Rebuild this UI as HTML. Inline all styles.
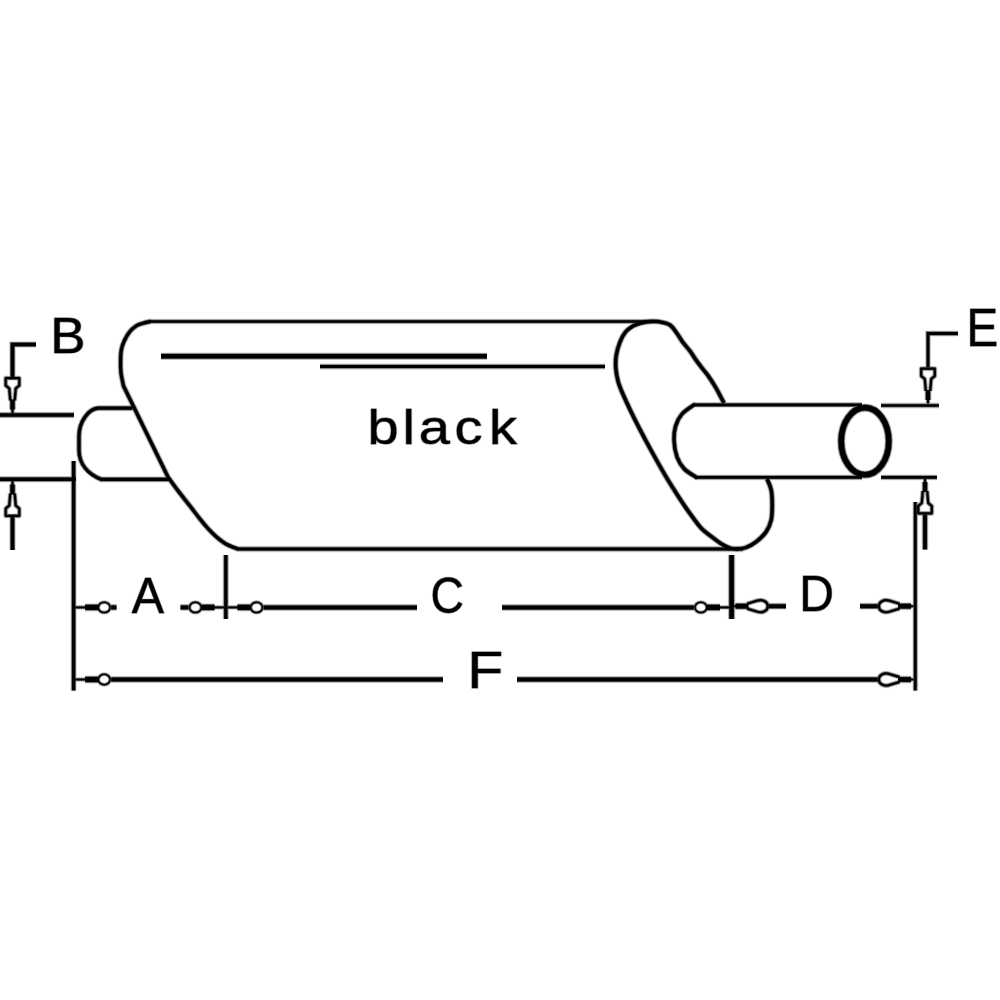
<!DOCTYPE html>
<html>
<head>
<meta charset="utf-8">
<title>Muffler dimensions</title>
<style>
html,body{margin:0;padding:0;background:#fff;}
body{width:1000px;height:1000px;overflow:hidden;}
svg{display:block;}
text{font-family:"Liberation Sans",sans-serif;fill:#000;stroke:#000;stroke-linejoin:round;}
</style>
</head>
<body>
<svg width="1000" height="1000" viewBox="0 0 1000 1000">
<rect width="1000" height="1000" fill="#fff"/>

<g fill="none" stroke="#000" opacity="0.15">
<path stroke-width="6.3" d="M132.4 408.2 H98 C89 409 79 421 79 436 V450 C79 464 88 474 101 479.3 H169"/>
<path stroke-width="5.5" d="M659 321.5 H149"/>
<path stroke-width="6.3" d="M151 321.5 L150 321.5 C148.8 321.8 145.3 322.4 143.0 323.2 C140.7 323.9 138.2 324.5 136.0 326.0 C133.8 327.5 131.5 329.5 129.5 332.0 C127.5 334.5 125.6 338.0 124.2 341.0 C122.8 344.0 121.9 346.8 121.3 350.0 C120.7 353.2 120.6 356.2 120.6 360.0 C120.5 363.8 120.5 368.7 121.0 373.0 C121.5 377.3 123.1 383.8 123.5 386.0 L168 477 C169.8 479.5 175.3 487.2 179.0 492.0 C182.7 496.8 186.5 501.5 190.0 506.0 C193.5 510.5 197.0 515.2 200.0 519.0 C203.0 522.8 205.3 525.6 208.0 528.5 C210.7 531.4 213.0 533.9 216.0 536.5 C219.0 539.1 222.3 541.9 226.0 544.0 C229.7 546.1 236.0 548.2 238.0 549.0" stroke-linejoin="round"/>
<path stroke-width="6.3" d="M237 549.0 H743"/>
<path stroke-width="7.5" d="M161 356.2 H487"/>
<path stroke-width="6.1" d="M320 366.6 H605"/>
<path stroke-width="6.5" d="M767.0 479.0 C769.2 483.7 770.3 485.7 771.2 490.0 C772.1 494.3 772.2 500.0 772.2 505.0 C772.2 510.0 772.2 515.5 771.2 520.0 C770.2 524.5 768.5 528.4 766.0 532.0 C763.5 535.6 759.7 539.0 756.4 541.6 C753.1 544.2 749.2 546.3 746.0 547.5 C742.8 548.7 739.7 548.9 737.0 549.0 C734.3 549.1 732.6 548.8 730.0 548.0 C727.4 547.2 724.6 545.8 721.6 544.0 C718.6 542.2 715.3 539.5 712.0 537.0 C708.7 534.5 705.0 532.0 702.0 529.0 C699.0 526.0 696.8 522.8 694.0 519.0 C691.2 515.2 688.1 511.0 685.0 506.5 C681.9 502.0 678.8 497.2 675.5 492.0 C672.2 486.8 668.9 481.7 665.0 475.0 C661.1 468.3 656.2 459.6 652.0 452.0 C647.8 444.4 643.6 436.5 640.0 429.6 C636.4 422.7 633.4 416.7 630.4 410.4 C627.4 404.1 624.1 396.9 622.0 392.0 C619.9 387.1 619.0 385.0 618.0 381.0 C617.0 377.0 616.1 372.3 615.8 368.0 C615.5 363.7 615.6 359.3 616.3 355.0 C617.0 350.7 618.5 345.8 620.0 342.0 C621.5 338.2 623.3 334.7 625.5 332.0 C627.7 329.3 630.4 327.5 633.0 326.0 C635.6 324.5 638.2 323.8 641.0 323.0 C643.8 322.2 647.0 321.7 650.0 321.5 C653.0 321.3 655.7 321.1 659.0 321.7 C662.3 322.3 667.0 323.0 670.0 325.0 C673.0 327.0 674.8 330.6 677.0 333.5 C679.2 336.4 680.8 339.6 683.0 342.5 C685.2 345.4 687.8 348.1 690.0 351.0 C692.2 353.9 694.0 357.2 696.0 360.0 C698.0 362.8 700.0 365.4 702.0 368.0 C704.0 370.6 705.7 372.2 708.0 375.5 C710.3 378.8 713.3 383.4 716.0 388.0 C718.7 392.6 719.7 395.0 724.0 403.0" stroke-linejoin="round"/>
<path stroke-width="5.8" d="M862 404.8 H693 M695 477.3 H862"/>
<path stroke-width="6.4" d="M695 404.8 L694 404.8 C692.0 406.3 685.1 410.5 682.0 414.0 C678.9 417.5 676.9 421.7 675.6 426.0 C674.3 430.3 673.8 434.8 674.0 440.0 C674.2 445.2 675.3 452.2 677.0 457.0 C678.7 461.8 681.2 465.6 684.4 469.0 C687.6 472.4 694.4 475.9 696.4 477.3 H697" stroke-linejoin="round"/>
<ellipse stroke-width="8.7" cx="865" cy="441.2" rx="23.8" ry="33.6"/>
<path stroke-width="6.6" d="M0 415 H74 M0 479.3 H76"/>
<path stroke-width="6.7" d="M36 344.5 H12.5 V377" stroke-linejoin="miter"/>
<path stroke-width="6.7" d="M12.5 517 V550"/>
<g transform="translate(12.5 413.5) rotate(0)">
<path stroke-width="5.1" d="M0 -0.5 V-5"/>
<path stroke-width="7.3" d="M0 -4 V-14"/>
<path stroke-width="5.3" d="M-2.2 -13 L-3.2 -25 L-6.8 -28 V-35.3 H6.8 V-28 L3.2 -25 L2.2 -13" stroke-linejoin="round"/>
</g>
<g transform="translate(12.5 480.5) rotate(180)">
<path stroke-width="5.1" d="M0 -0.5 V-5"/>
<path stroke-width="7.3" d="M0 -4 V-14"/>
<path stroke-width="5.3" d="M-2.2 -13 L-3.2 -25 L-6.8 -28 V-35.3 H6.8 V-28 L3.2 -25 L2.2 -13" stroke-linejoin="round"/>
</g>
<path stroke-width="5.8" d="M881 405.5 H939 M881 477.4 H937"/>
<path stroke-width="5.9" d="M958 333.5 H928 V367.5" stroke-linejoin="miter"/>
<path stroke-width="6.9" d="M925 514.5 V549.5"/>
<g transform="translate(928 404) rotate(0)">
<path stroke-width="5.1" d="M0 -0.5 V-5"/>
<path stroke-width="7.3" d="M0 -4 V-14"/>
<path stroke-width="5.3" d="M-2.2 -13 L-3.2 -25 L-6.8 -28 V-35.3 H6.8 V-28 L3.2 -25 L2.2 -13" stroke-linejoin="round"/>
</g>
<g transform="translate(925 478) rotate(180)">
<path stroke-width="5.1" d="M0 -0.5 V-5"/>
<path stroke-width="7.3" d="M0 -4 V-14"/>
<path stroke-width="5.3" d="M-2.2 -13 L-3.2 -25 L-6.8 -28 V-35.3 H6.8 V-28 L3.2 -25 L2.2 -13" stroke-linejoin="round"/>
</g>
<path stroke-width="6.4" d="M73.6 461 V690.5"/>
<path stroke-width="5.9" d="M915.3 502 V690.5"/>
<path stroke-width="6.4" d="M225.8 555 V619"/>
<path stroke-width="7.6" d="M731.6 555 V619"/>
<path stroke-width="7.1" d="M111.19999999999999 607.4 H116.5"/>
<path stroke-width="7.1" d="M180.5 607.4 H188.4"/>
<path stroke-width="7.1" d="M263.6 607.4 H417"/>
<path stroke-width="7.1" d="M502 607.4 H693.9"/>
<path stroke-width="7.1" d="M768.9 606.2 H786"/>
<path stroke-width="7.1" d="M860 606.2 H877.6999999999999"/>
<path stroke-width="7.1" d="M111.19999999999999 679.5 H443"/>
<path stroke-width="7.1" d="M517 679.5 H877.6999999999999"/>
<g transform="translate(74.6 607.4) rotate(180)">
<path stroke-width="4.9" d="M-0.5 0 H-12"/>
<path stroke-width="8.3" d="M-10.5 0 H-23.6"/>
<ellipse stroke-width="4.6" cx="-29.6" cy="0" rx="5.9" ry="5.2"/>
</g>
<g transform="translate(225 607.4) rotate(0)">
<path stroke-width="4.9" d="M-0.5 0 H-12"/>
<path stroke-width="8.3" d="M-10.5 0 H-23.6"/>
<ellipse stroke-width="4.6" cx="-29.6" cy="0" rx="5.9" ry="5.2"/>
</g>
<g transform="translate(227 607.4) rotate(180)">
<path stroke-width="4.9" d="M-0.5 0 H-12"/>
<path stroke-width="8.3" d="M-10.5 0 H-23.6"/>
<ellipse stroke-width="4.6" cx="-29.6" cy="0" rx="5.9" ry="5.2"/>
</g>
<g transform="translate(730.5 607.4) rotate(0)">
<path stroke-width="4.9" d="M-0.5 0 H-12"/>
<path stroke-width="8.3" d="M-10.5 0 H-23.6"/>
<ellipse stroke-width="4.6" cx="-29.6" cy="0" rx="5.9" ry="5.2"/>
</g>
<g transform="translate(732.5 606.2) rotate(180)">
<path stroke-width="4.9" d="M-0.5 0 H-4"/>
<path stroke-width="7.9" d="M-3 0 H-16"/>
<path stroke-width="5.3" d="M-14.5 -2.4 L-25 -5.6 C-30 -7 -35.3 -4.6 -35.3 0 C-35.3 4.6 -30 7 -25 5.6 L-14.5 2.4" stroke-linejoin="round"/>
</g>
<g transform="translate(914.0999999999999 606.2) rotate(0)">
<path stroke-width="4.9" d="M-0.5 0 H-4"/>
<path stroke-width="7.9" d="M-3 0 H-16"/>
<path stroke-width="5.3" d="M-14.5 -2.4 L-25 -5.6 C-30 -7 -35.3 -4.6 -35.3 0 C-35.3 4.6 -30 7 -25 5.6 L-14.5 2.4" stroke-linejoin="round"/>
</g>
<g transform="translate(74.6 679.5) rotate(180)">
<path stroke-width="4.9" d="M-0.5 0 H-12"/>
<path stroke-width="8.3" d="M-10.5 0 H-23.6"/>
<ellipse stroke-width="4.6" cx="-29.6" cy="0" rx="5.9" ry="5.2"/>
</g>
<g transform="translate(914.0999999999999 679.5) rotate(0)">
<path stroke-width="4.9" d="M-0.5 0 H-4"/>
<path stroke-width="7.9" d="M-3 0 H-16"/>
<path stroke-width="5.3" d="M-14.5 -2.4 L-25 -5.6 C-30 -7 -35.3 -4.6 -35.3 0 C-35.3 4.6 -30 7 -25 5.6 L-14.5 2.4" stroke-linejoin="round"/>
</g>
</g>
<use href="#txt" stroke-width="8" opacity="0.15"/>
<g fill="none" stroke="#000" opacity="0.47">
<path stroke-width="4.7" d="M132.4 408.2 H98 C89 409 79 421 79 436 V450 C79 464 88 474 101 479.3 H169"/>
<path stroke-width="3.9" d="M659 321.5 H149"/>
<path stroke-width="4.7" d="M151 321.5 L150 321.5 C148.8 321.8 145.3 322.4 143.0 323.2 C140.7 323.9 138.2 324.5 136.0 326.0 C133.8 327.5 131.5 329.5 129.5 332.0 C127.5 334.5 125.6 338.0 124.2 341.0 C122.8 344.0 121.9 346.8 121.3 350.0 C120.7 353.2 120.6 356.2 120.6 360.0 C120.5 363.8 120.5 368.7 121.0 373.0 C121.5 377.3 123.1 383.8 123.5 386.0 L168 477 C169.8 479.5 175.3 487.2 179.0 492.0 C182.7 496.8 186.5 501.5 190.0 506.0 C193.5 510.5 197.0 515.2 200.0 519.0 C203.0 522.8 205.3 525.6 208.0 528.5 C210.7 531.4 213.0 533.9 216.0 536.5 C219.0 539.1 222.3 541.9 226.0 544.0 C229.7 546.1 236.0 548.2 238.0 549.0" stroke-linejoin="round"/>
<path stroke-width="4.7" d="M237 549.0 H743"/>
<path stroke-width="5.9" d="M161 356.2 H487"/>
<path stroke-width="4.5" d="M320 366.6 H605"/>
<path stroke-width="4.9" d="M767.0 479.0 C769.2 483.7 770.3 485.7 771.2 490.0 C772.1 494.3 772.2 500.0 772.2 505.0 C772.2 510.0 772.2 515.5 771.2 520.0 C770.2 524.5 768.5 528.4 766.0 532.0 C763.5 535.6 759.7 539.0 756.4 541.6 C753.1 544.2 749.2 546.3 746.0 547.5 C742.8 548.7 739.7 548.9 737.0 549.0 C734.3 549.1 732.6 548.8 730.0 548.0 C727.4 547.2 724.6 545.8 721.6 544.0 C718.6 542.2 715.3 539.5 712.0 537.0 C708.7 534.5 705.0 532.0 702.0 529.0 C699.0 526.0 696.8 522.8 694.0 519.0 C691.2 515.2 688.1 511.0 685.0 506.5 C681.9 502.0 678.8 497.2 675.5 492.0 C672.2 486.8 668.9 481.7 665.0 475.0 C661.1 468.3 656.2 459.6 652.0 452.0 C647.8 444.4 643.6 436.5 640.0 429.6 C636.4 422.7 633.4 416.7 630.4 410.4 C627.4 404.1 624.1 396.9 622.0 392.0 C619.9 387.1 619.0 385.0 618.0 381.0 C617.0 377.0 616.1 372.3 615.8 368.0 C615.5 363.7 615.6 359.3 616.3 355.0 C617.0 350.7 618.5 345.8 620.0 342.0 C621.5 338.2 623.3 334.7 625.5 332.0 C627.7 329.3 630.4 327.5 633.0 326.0 C635.6 324.5 638.2 323.8 641.0 323.0 C643.8 322.2 647.0 321.7 650.0 321.5 C653.0 321.3 655.7 321.1 659.0 321.7 C662.3 322.3 667.0 323.0 670.0 325.0 C673.0 327.0 674.8 330.6 677.0 333.5 C679.2 336.4 680.8 339.6 683.0 342.5 C685.2 345.4 687.8 348.1 690.0 351.0 C692.2 353.9 694.0 357.2 696.0 360.0 C698.0 362.8 700.0 365.4 702.0 368.0 C704.0 370.6 705.7 372.2 708.0 375.5 C710.3 378.8 713.3 383.4 716.0 388.0 C718.7 392.6 719.7 395.0 724.0 403.0" stroke-linejoin="round"/>
<path stroke-width="4.2" d="M862 404.8 H693 M695 477.3 H862"/>
<path stroke-width="4.8" d="M695 404.8 L694 404.8 C692.0 406.3 685.1 410.5 682.0 414.0 C678.9 417.5 676.9 421.7 675.6 426.0 C674.3 430.3 673.8 434.8 674.0 440.0 C674.2 445.2 675.3 452.2 677.0 457.0 C678.7 461.8 681.2 465.6 684.4 469.0 C687.6 472.4 694.4 475.9 696.4 477.3 H697" stroke-linejoin="round"/>
<ellipse stroke-width="7.1" cx="865" cy="441.2" rx="23.8" ry="33.6"/>
<path stroke-width="5" d="M0 415 H74 M0 479.3 H76"/>
<path stroke-width="5.1" d="M36 344.5 H12.5 V377" stroke-linejoin="miter"/>
<path stroke-width="5.1" d="M12.5 517 V550"/>
<g transform="translate(12.5 413.5) rotate(0)">
<path stroke-width="3.5" d="M0 -0.5 V-5"/>
<path stroke-width="5.7" d="M0 -4 V-14"/>
<path stroke-width="3.7" d="M-2.2 -13 L-3.2 -25 L-6.8 -28 V-35.3 H6.8 V-28 L3.2 -25 L2.2 -13" stroke-linejoin="round"/>
</g>
<g transform="translate(12.5 480.5) rotate(180)">
<path stroke-width="3.5" d="M0 -0.5 V-5"/>
<path stroke-width="5.7" d="M0 -4 V-14"/>
<path stroke-width="3.7" d="M-2.2 -13 L-3.2 -25 L-6.8 -28 V-35.3 H6.8 V-28 L3.2 -25 L2.2 -13" stroke-linejoin="round"/>
</g>
<path stroke-width="4.2" d="M881 405.5 H939 M881 477.4 H937"/>
<path stroke-width="4.3" d="M958 333.5 H928 V367.5" stroke-linejoin="miter"/>
<path stroke-width="5.3" d="M925 514.5 V549.5"/>
<g transform="translate(928 404) rotate(0)">
<path stroke-width="3.5" d="M0 -0.5 V-5"/>
<path stroke-width="5.7" d="M0 -4 V-14"/>
<path stroke-width="3.7" d="M-2.2 -13 L-3.2 -25 L-6.8 -28 V-35.3 H6.8 V-28 L3.2 -25 L2.2 -13" stroke-linejoin="round"/>
</g>
<g transform="translate(925 478) rotate(180)">
<path stroke-width="3.5" d="M0 -0.5 V-5"/>
<path stroke-width="5.7" d="M0 -4 V-14"/>
<path stroke-width="3.7" d="M-2.2 -13 L-3.2 -25 L-6.8 -28 V-35.3 H6.8 V-28 L3.2 -25 L2.2 -13" stroke-linejoin="round"/>
</g>
<path stroke-width="4.8" d="M73.6 461 V690.5"/>
<path stroke-width="4.3" d="M915.3 502 V690.5"/>
<path stroke-width="4.8" d="M225.8 555 V619"/>
<path stroke-width="6" d="M731.6 555 V619"/>
<path stroke-width="5.5" d="M111.19999999999999 607.4 H116.5"/>
<path stroke-width="5.5" d="M180.5 607.4 H188.4"/>
<path stroke-width="5.5" d="M263.6 607.4 H417"/>
<path stroke-width="5.5" d="M502 607.4 H693.9"/>
<path stroke-width="5.5" d="M768.9 606.2 H786"/>
<path stroke-width="5.5" d="M860 606.2 H877.6999999999999"/>
<path stroke-width="5.5" d="M111.19999999999999 679.5 H443"/>
<path stroke-width="5.5" d="M517 679.5 H877.6999999999999"/>
<g transform="translate(74.6 607.4) rotate(180)">
<path stroke-width="3.3" d="M-0.5 0 H-12"/>
<path stroke-width="6.7" d="M-10.5 0 H-23.6"/>
<ellipse stroke-width="3" cx="-29.6" cy="0" rx="5.9" ry="5.2"/>
</g>
<g transform="translate(225 607.4) rotate(0)">
<path stroke-width="3.3" d="M-0.5 0 H-12"/>
<path stroke-width="6.7" d="M-10.5 0 H-23.6"/>
<ellipse stroke-width="3" cx="-29.6" cy="0" rx="5.9" ry="5.2"/>
</g>
<g transform="translate(227 607.4) rotate(180)">
<path stroke-width="3.3" d="M-0.5 0 H-12"/>
<path stroke-width="6.7" d="M-10.5 0 H-23.6"/>
<ellipse stroke-width="3" cx="-29.6" cy="0" rx="5.9" ry="5.2"/>
</g>
<g transform="translate(730.5 607.4) rotate(0)">
<path stroke-width="3.3" d="M-0.5 0 H-12"/>
<path stroke-width="6.7" d="M-10.5 0 H-23.6"/>
<ellipse stroke-width="3" cx="-29.6" cy="0" rx="5.9" ry="5.2"/>
</g>
<g transform="translate(732.5 606.2) rotate(180)">
<path stroke-width="3.3" d="M-0.5 0 H-4"/>
<path stroke-width="6.3" d="M-3 0 H-16"/>
<path stroke-width="3.7" d="M-14.5 -2.4 L-25 -5.6 C-30 -7 -35.3 -4.6 -35.3 0 C-35.3 4.6 -30 7 -25 5.6 L-14.5 2.4" stroke-linejoin="round"/>
</g>
<g transform="translate(914.0999999999999 606.2) rotate(0)">
<path stroke-width="3.3" d="M-0.5 0 H-4"/>
<path stroke-width="6.3" d="M-3 0 H-16"/>
<path stroke-width="3.7" d="M-14.5 -2.4 L-25 -5.6 C-30 -7 -35.3 -4.6 -35.3 0 C-35.3 4.6 -30 7 -25 5.6 L-14.5 2.4" stroke-linejoin="round"/>
</g>
<g transform="translate(74.6 679.5) rotate(180)">
<path stroke-width="3.3" d="M-0.5 0 H-12"/>
<path stroke-width="6.7" d="M-10.5 0 H-23.6"/>
<ellipse stroke-width="3" cx="-29.6" cy="0" rx="5.9" ry="5.2"/>
</g>
<g transform="translate(914.0999999999999 679.5) rotate(0)">
<path stroke-width="3.3" d="M-0.5 0 H-4"/>
<path stroke-width="6.3" d="M-3 0 H-16"/>
<path stroke-width="3.7" d="M-14.5 -2.4 L-25 -5.6 C-30 -7 -35.3 -4.6 -35.3 0 C-35.3 4.6 -30 7 -25 5.6 L-14.5 2.4" stroke-linejoin="round"/>
</g>
</g>
<use href="#txt" stroke-width="3.2" opacity="0.47"/>
<g fill="none" stroke="#000">
<path stroke-width="3.2" d="M132.4 408.2 H98 C89 409 79 421 79 436 V450 C79 464 88 474 101 479.3 H169"/>
<path stroke-width="2.4" d="M659 321.5 H149"/>
<path stroke-width="3.2" d="M151 321.5 L150 321.5 C148.8 321.8 145.3 322.4 143.0 323.2 C140.7 323.9 138.2 324.5 136.0 326.0 C133.8 327.5 131.5 329.5 129.5 332.0 C127.5 334.5 125.6 338.0 124.2 341.0 C122.8 344.0 121.9 346.8 121.3 350.0 C120.7 353.2 120.6 356.2 120.6 360.0 C120.5 363.8 120.5 368.7 121.0 373.0 C121.5 377.3 123.1 383.8 123.5 386.0 L168 477 C169.8 479.5 175.3 487.2 179.0 492.0 C182.7 496.8 186.5 501.5 190.0 506.0 C193.5 510.5 197.0 515.2 200.0 519.0 C203.0 522.8 205.3 525.6 208.0 528.5 C210.7 531.4 213.0 533.9 216.0 536.5 C219.0 539.1 222.3 541.9 226.0 544.0 C229.7 546.1 236.0 548.2 238.0 549.0" stroke-linejoin="round"/>
<path stroke-width="3.2" d="M237 549.0 H743"/>
<path stroke-width="4.4" d="M161 356.2 H487"/>
<path stroke-width="3" d="M320 366.6 H605"/>
<path stroke-width="3.4" d="M767.0 479.0 C769.2 483.7 770.3 485.7 771.2 490.0 C772.1 494.3 772.2 500.0 772.2 505.0 C772.2 510.0 772.2 515.5 771.2 520.0 C770.2 524.5 768.5 528.4 766.0 532.0 C763.5 535.6 759.7 539.0 756.4 541.6 C753.1 544.2 749.2 546.3 746.0 547.5 C742.8 548.7 739.7 548.9 737.0 549.0 C734.3 549.1 732.6 548.8 730.0 548.0 C727.4 547.2 724.6 545.8 721.6 544.0 C718.6 542.2 715.3 539.5 712.0 537.0 C708.7 534.5 705.0 532.0 702.0 529.0 C699.0 526.0 696.8 522.8 694.0 519.0 C691.2 515.2 688.1 511.0 685.0 506.5 C681.9 502.0 678.8 497.2 675.5 492.0 C672.2 486.8 668.9 481.7 665.0 475.0 C661.1 468.3 656.2 459.6 652.0 452.0 C647.8 444.4 643.6 436.5 640.0 429.6 C636.4 422.7 633.4 416.7 630.4 410.4 C627.4 404.1 624.1 396.9 622.0 392.0 C619.9 387.1 619.0 385.0 618.0 381.0 C617.0 377.0 616.1 372.3 615.8 368.0 C615.5 363.7 615.6 359.3 616.3 355.0 C617.0 350.7 618.5 345.8 620.0 342.0 C621.5 338.2 623.3 334.7 625.5 332.0 C627.7 329.3 630.4 327.5 633.0 326.0 C635.6 324.5 638.2 323.8 641.0 323.0 C643.8 322.2 647.0 321.7 650.0 321.5 C653.0 321.3 655.7 321.1 659.0 321.7 C662.3 322.3 667.0 323.0 670.0 325.0 C673.0 327.0 674.8 330.6 677.0 333.5 C679.2 336.4 680.8 339.6 683.0 342.5 C685.2 345.4 687.8 348.1 690.0 351.0 C692.2 353.9 694.0 357.2 696.0 360.0 C698.0 362.8 700.0 365.4 702.0 368.0 C704.0 370.6 705.7 372.2 708.0 375.5 C710.3 378.8 713.3 383.4 716.0 388.0 C718.7 392.6 719.7 395.0 724.0 403.0" stroke-linejoin="round"/>
<path stroke-width="2.7" d="M862 404.8 H693 M695 477.3 H862"/>
<path stroke-width="3.3" d="M695 404.8 L694 404.8 C692.0 406.3 685.1 410.5 682.0 414.0 C678.9 417.5 676.9 421.7 675.6 426.0 C674.3 430.3 673.8 434.8 674.0 440.0 C674.2 445.2 675.3 452.2 677.0 457.0 C678.7 461.8 681.2 465.6 684.4 469.0 C687.6 472.4 694.4 475.9 696.4 477.3 H697" stroke-linejoin="round"/>
<ellipse stroke-width="5.6" cx="865" cy="441.2" rx="23.8" ry="33.6"/>
<path stroke-width="3.5" d="M0 415 H74 M0 479.3 H76"/>
<path stroke-width="3.6" d="M36 344.5 H12.5 V377" stroke-linejoin="miter"/>
<path stroke-width="3.6" d="M12.5 517 V550"/>
<g transform="translate(12.5 413.5) rotate(0)">
<path stroke-width="2" d="M0 -0.5 V-5"/>
<path stroke-width="4.2" d="M0 -4 V-14"/>
<path stroke-width="2.2" d="M-2.2 -13 L-3.2 -25 L-6.8 -28 V-35.3 H6.8 V-28 L3.2 -25 L2.2 -13" stroke-linejoin="round"/>
</g>
<g transform="translate(12.5 480.5) rotate(180)">
<path stroke-width="2" d="M0 -0.5 V-5"/>
<path stroke-width="4.2" d="M0 -4 V-14"/>
<path stroke-width="2.2" d="M-2.2 -13 L-3.2 -25 L-6.8 -28 V-35.3 H6.8 V-28 L3.2 -25 L2.2 -13" stroke-linejoin="round"/>
</g>
<path stroke-width="2.7" d="M881 405.5 H939 M881 477.4 H937"/>
<path stroke-width="2.8" d="M958 333.5 H928 V367.5" stroke-linejoin="miter"/>
<path stroke-width="3.8" d="M925 514.5 V549.5"/>
<g transform="translate(928 404) rotate(0)">
<path stroke-width="2" d="M0 -0.5 V-5"/>
<path stroke-width="4.2" d="M0 -4 V-14"/>
<path stroke-width="2.2" d="M-2.2 -13 L-3.2 -25 L-6.8 -28 V-35.3 H6.8 V-28 L3.2 -25 L2.2 -13" stroke-linejoin="round"/>
</g>
<g transform="translate(925 478) rotate(180)">
<path stroke-width="2" d="M0 -0.5 V-5"/>
<path stroke-width="4.2" d="M0 -4 V-14"/>
<path stroke-width="2.2" d="M-2.2 -13 L-3.2 -25 L-6.8 -28 V-35.3 H6.8 V-28 L3.2 -25 L2.2 -13" stroke-linejoin="round"/>
</g>
<path stroke-width="3.3" d="M73.6 461 V690.5"/>
<path stroke-width="2.8" d="M915.3 502 V690.5"/>
<path stroke-width="3.3" d="M225.8 555 V619"/>
<path stroke-width="4.5" d="M731.6 555 V619"/>
<path stroke-width="4" d="M111.19999999999999 607.4 H116.5"/>
<path stroke-width="4" d="M180.5 607.4 H188.4"/>
<path stroke-width="4" d="M263.6 607.4 H417"/>
<path stroke-width="4" d="M502 607.4 H693.9"/>
<path stroke-width="4" d="M768.9 606.2 H786"/>
<path stroke-width="4" d="M860 606.2 H877.6999999999999"/>
<path stroke-width="4" d="M111.19999999999999 679.5 H443"/>
<path stroke-width="4" d="M517 679.5 H877.6999999999999"/>
<g transform="translate(74.6 607.4) rotate(180)">
<path stroke-width="1.8" d="M-0.5 0 H-12"/>
<path stroke-width="5.2" d="M-10.5 0 H-23.6"/>
<ellipse stroke-width="1.5" cx="-29.6" cy="0" rx="5.9" ry="5.2"/>
</g>
<g transform="translate(225 607.4) rotate(0)">
<path stroke-width="1.8" d="M-0.5 0 H-12"/>
<path stroke-width="5.2" d="M-10.5 0 H-23.6"/>
<ellipse stroke-width="1.5" cx="-29.6" cy="0" rx="5.9" ry="5.2"/>
</g>
<g transform="translate(227 607.4) rotate(180)">
<path stroke-width="1.8" d="M-0.5 0 H-12"/>
<path stroke-width="5.2" d="M-10.5 0 H-23.6"/>
<ellipse stroke-width="1.5" cx="-29.6" cy="0" rx="5.9" ry="5.2"/>
</g>
<g transform="translate(730.5 607.4) rotate(0)">
<path stroke-width="1.8" d="M-0.5 0 H-12"/>
<path stroke-width="5.2" d="M-10.5 0 H-23.6"/>
<ellipse stroke-width="1.5" cx="-29.6" cy="0" rx="5.9" ry="5.2"/>
</g>
<g transform="translate(732.5 606.2) rotate(180)">
<path stroke-width="1.8" d="M-0.5 0 H-4"/>
<path stroke-width="4.8" d="M-3 0 H-16"/>
<path stroke-width="2.2" d="M-14.5 -2.4 L-25 -5.6 C-30 -7 -35.3 -4.6 -35.3 0 C-35.3 4.6 -30 7 -25 5.6 L-14.5 2.4" stroke-linejoin="round"/>
</g>
<g transform="translate(914.0999999999999 606.2) rotate(0)">
<path stroke-width="1.8" d="M-0.5 0 H-4"/>
<path stroke-width="4.8" d="M-3 0 H-16"/>
<path stroke-width="2.2" d="M-14.5 -2.4 L-25 -5.6 C-30 -7 -35.3 -4.6 -35.3 0 C-35.3 4.6 -30 7 -25 5.6 L-14.5 2.4" stroke-linejoin="round"/>
</g>
<g transform="translate(74.6 679.5) rotate(180)">
<path stroke-width="1.8" d="M-0.5 0 H-12"/>
<path stroke-width="5.2" d="M-10.5 0 H-23.6"/>
<ellipse stroke-width="1.5" cx="-29.6" cy="0" rx="5.9" ry="5.2"/>
</g>
<g transform="translate(914.0999999999999 679.5) rotate(0)">
<path stroke-width="1.8" d="M-0.5 0 H-4"/>
<path stroke-width="4.8" d="M-3 0 H-16"/>
<path stroke-width="2.2" d="M-14.5 -2.4 L-25 -5.6 C-30 -7 -35.3 -4.6 -35.3 0 C-35.3 4.6 -30 7 -25 5.6 L-14.5 2.4" stroke-linejoin="round"/>
</g>
</g>
<g stroke-width="0"><g id="txt">
<text transform="translate(50.37 352.90) scale(0.2645 0.2504)" font-size="200">B</text>
<text transform="translate(966.45 346.35) scale(0.2376 0.2681)" font-size="200">E</text>
<text transform="translate(131.71 612.75) scale(0.2417 0.2526)" font-size="200">A</text>
<text transform="translate(430.53 612.56) scale(0.2317 0.2458)" font-size="200">C</text>
<text transform="translate(799.30 610.65) scale(0.2403 0.2522)" font-size="200">D</text>
<text transform="translate(467.33 687.75) scale(0.2949 0.2616)" font-size="200">F</text>
<text transform="translate(0 443.77) scale(0.2800 0.2395)" x="1312.9 1437.3 1495.7 1623.0 1746.4" font-size="200">black</text>
</g></g>

</svg>
</body>
</html>
